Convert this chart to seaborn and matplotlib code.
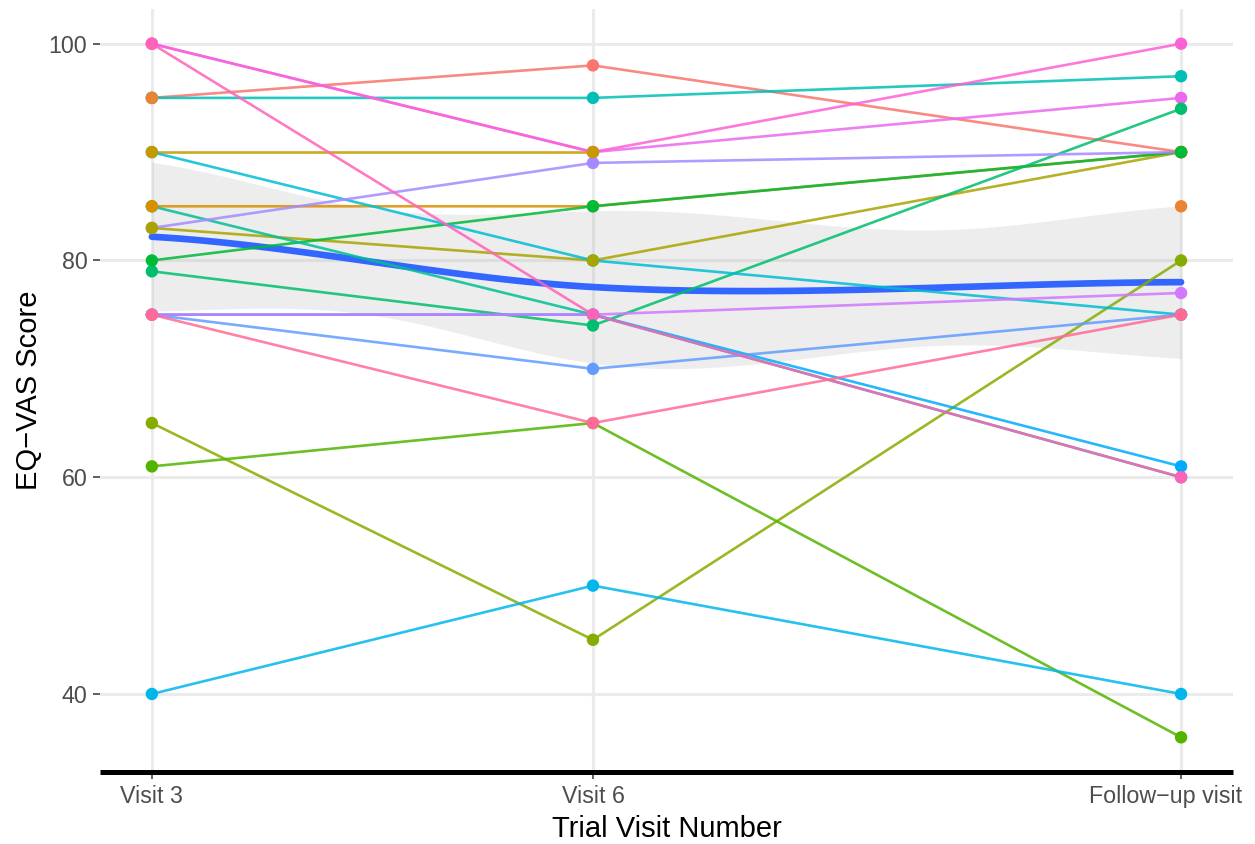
import numpy as np
import pandas as pd
import matplotlib
matplotlib.use("Agg")
import matplotlib.pyplot as plt
import matplotlib.transforms as mtransforms
import seaborn as sns

# ---- data -------------------------------------------------------------
visits = [3, 6, 10]
visit_labels = ["Visit 3", "Visit 6", "Follow\u2212up visit"]

# one entry per participant (row order = drawing order of the points)
subject = ["S01", "S11", "S12", "S16", "S10", "S18", "S19", "S13", "S07", "S14",
           "S15", "S17", "S20", "S21", "S02", "S03", "S04", "S05", "S06", "S09", "S08"]
visit3 = [95, 95, 90, 83, 85, 100, 100, 40, 61, 75,
          75, 75, 100, 75, 95, 85, 90, 83, 65, 79, 80]
visit6 = [98, 95, 80, 89, 75, 90, 90, 50, 65, 75,
          70, 75, 75, 65, np.nan, 85, 90, 80, 45, 74, 85]
followup = [90, 97, 75, 90, 60, 95, 100, 40, 36, 61,
            75, 77, 60, 75, 85, 90, np.nan, 90, 80, 94, 90]

# ---- helpers ----------------------------------------------------------
def hcl_hex(h, c=100.0, l=65.0):
    """Polar LUV (HCL) to sRGB hex, D65 white."""
    xn, yn, zn = 95.047, 100.0, 108.883
    u = c * np.cos(np.radians(h))
    v = c * np.sin(np.radians(h))
    y = yn * ((l + 16) / 116) ** 3 if l > 8 else yn * l / 903.3
    un = 4 * xn / (xn + 15 * yn + 3 * zn)
    vn = 9 * yn / (xn + 15 * yn + 3 * zn)
    up = u / (13 * l) + un
    vp = v / (13 * l) + vn
    x = 9 * y * up / (4 * vp)
    z = (12 - 3 * up - 20 * vp) * y / (4 * vp)
    xyz = np.array([x, y, z]) / 100
    m = np.array([[3.2404542, -1.5371385, -0.4985314],
                  [-0.9692660, 1.8760108, 0.0415560],
                  [0.0556434, -0.2040259, 1.0572252]])
    rgb = m @ xyz
    rgb = np.where(rgb <= 0.0031308, 12.92 * rgb, 1.055 * np.abs(rgb) ** (1 / 2.4) - 0.055)
    rgb = np.clip(rgb, 0, 1)
    return "#" + "".join(f"{int(round(ch * 255)):02X}" for ch in rgb)


def hue_palette(n):
    hues = np.linspace(15, 375, n + 1)[:-1]
    return [hcl_hex(h) for h in hues]


def loess_operator(x, span=0.75):
    """Local quadratic fit (tricube weights) at the distinct x values:
    returns vertices plus linear operator rows for value and slope."""
    n = len(x)
    q = int(np.floor(n * span))
    verts = np.unique(x)
    val_rows, slope_rows = [], []
    for v in verts:
        d = np.abs(x - v)
        rho = np.sort(d)[q - 1]
        w = np.where(d < rho, (1 - (d / rho) ** 3) ** 3, 0.0)
        u = x - v
        X = np.column_stack([np.ones(n), u, u ** 2])
        sw = np.sqrt(w)
        Xw = X * sw[:, None]
        norms = np.linalg.norm(Xw, axis=0)
        norms[norms == 0] = 1.0
        P = np.linalg.pinv(Xw / norms, rcond=1e-7) * sw[None, :]
        P = P / norms[:, None]
        val_rows.append(P[0])
        slope_rows.append(P[1])
    return verts, np.array(val_rows), np.array(slope_rows)


def hermite_rows(xg, verts, vrows, srows):
    rows = []
    for xv in xg:
        k = min(np.searchsorted(verts, xv, side="right") - 1, len(verts) - 2)
        h = verts[k + 1] - verts[k]
        s = (xv - verts[k]) / h
        h00 = 2 * s**3 - 3 * s**2 + 1
        h10 = s**3 - 2 * s**2 + s
        h01 = -2 * s**3 + 3 * s**2
        h11 = s**3 - s**2
        rows.append(h00 * vrows[k] + h10 * h * srows[k]
                    + h01 * vrows[k + 1] + h11 * h * srows[k + 1])
    return np.array(rows)

# ---- long tables ------------------------------------------------------
wide = pd.DataFrame({"subject": subject, 3: visit3, 6: visit6, 10: followup})
long = wide.melt(id_vars="subject", value_vars=visits,
                 var_name="visit", value_name="score")
long["visit"] = long["visit"].astype(float)

# break each participant's line where a visit is missing
seg_rows = []
for sid, vals in zip(subject, zip(visit3, visit6, followup)):
    run = 0
    for vx, val in zip(visits, vals):
        if np.isnan(val):
            run += 1
            continue
        seg_rows.append({"subject": sid, "visit": float(vx), "score": val,
                         "run": f"{sid}_{run}"})
lines = pd.DataFrame(seg_rows)
points = long.dropna()

levels = sorted(subject)
palette = dict(zip(levels, hue_palette(len(levels))))

# ---- smoother ---------------------------------------------------------
xs_obs = points["visit"].to_numpy()
ys_obs = points["score"].to_numpy()
verts, vrows, srows = loess_operator(xs_obs)
grid = np.linspace(xs_obs.min(), xs_obs.max(), 80)
Lg = hermite_rows(grid, verts, vrows, srows)
fit = Lg @ ys_obs

Ld = hermite_rows(xs_obs, verts, vrows, srows)
R = np.eye(len(ys_obs)) - Ld
M = R.T @ R
delta1 = np.trace(M)
delta2 = np.trace(M @ M)
resid = ys_obs - Ld @ ys_obs
sigma = np.sqrt(np.sum(resid ** 2) / delta1)
df = delta1 ** 2 / delta2
z = 1.959964
tq = z + (z**3 + z) / (4 * df) + (5 * z**5 + 16 * z**3 + 3 * z) / (96 * df**2)
se = sigma * np.sqrt(np.sum(Lg ** 2, axis=1))
lo, hi = fit - tq * se, fit + tq * se
smooth = pd.DataFrame({"visit": grid, "score": fit})

# ---- figure -----------------------------------------------------------
sns.set_theme(style="white")
plt.rcParams["font.family"] = ["Liberation Sans", "DejaVu Sans"]

fig = plt.figure(figsize=(6.275, 4.22), dpi=200)
ax = fig.add_axes([0.0800, 0.0853, 0.9021, 0.9040])

ax.fill_between(grid, lo, hi, color="#999999", alpha=0.17, lw=0, zorder=1)
sns.lineplot(data=smooth, x="visit", y="score", color="#3366FF", lw=2.4,
             ax=ax, zorder=1.5)
sns.lineplot(data=lines, x="visit", y="score", hue="subject", units="run",
             estimator=None, hue_order=levels, palette=palette, lw=0.95,
             alpha=0.85, legend=False, ax=ax, zorder=2)
sns.scatterplot(data=points, x="visit", y="score", hue="subject",
                hue_order=levels, palette=palette, s=20, linewidth=0,
                legend=False, ax=ax, zorder=3)

# scale expansion (5 % on each side)
ylo = min(points["score"].min(), lo.min())
yhi = max(points["score"].max(), hi.max())
ypad = 0.05 * (yhi - ylo)
xpad = 0.05 * (max(visits) - min(visits))
ax.set_xlim(min(visits) - xpad, max(visits) + xpad)
ax.set_ylim(ylo - ypad, yhi + ypad)

ax.set_xticks(visits)
ax.set_xticklabels(visit_labels)
ax.set_yticks([40, 60, 80, 100])

ax.set_axisbelow(True)
ax.grid(True, color="#EBEBEB", lw=1.1)
for side in ["top", "right", "left"]:
    ax.spines[side].set_visible(False)
ax.spines["bottom"].set_color("black")
ax.spines["bottom"].set_linewidth(1.8)
ax.spines["bottom"].set_capstyle("butt")

ax.tick_params(axis="both", which="major", length=2.6, width=0.55,
               color="#333333", labelcolor="#4D4D4D", labelsize=8.4, pad=2.1)
ax.tick_params(axis="x", bottom=True)
ax.tick_params(axis="y", left=True)

ax.set_xlabel("Trial Visit Number", fontsize=10.5, color="black", labelpad=2.5)
ax.set_ylabel("EQ\u2212VAS Score", fontsize=10.5, color="black", labelpad=2)

# keep the last visit label inside the figure edge
last = ax.xaxis.get_major_ticks()[-1].label1
last.set_transform(last.get_transform()
                   + mtransforms.ScaledTranslation(-15.5 / 200, 0, fig.dpi_scale_trans))

fig.savefig("out.png", dpi=200, facecolor="white")
